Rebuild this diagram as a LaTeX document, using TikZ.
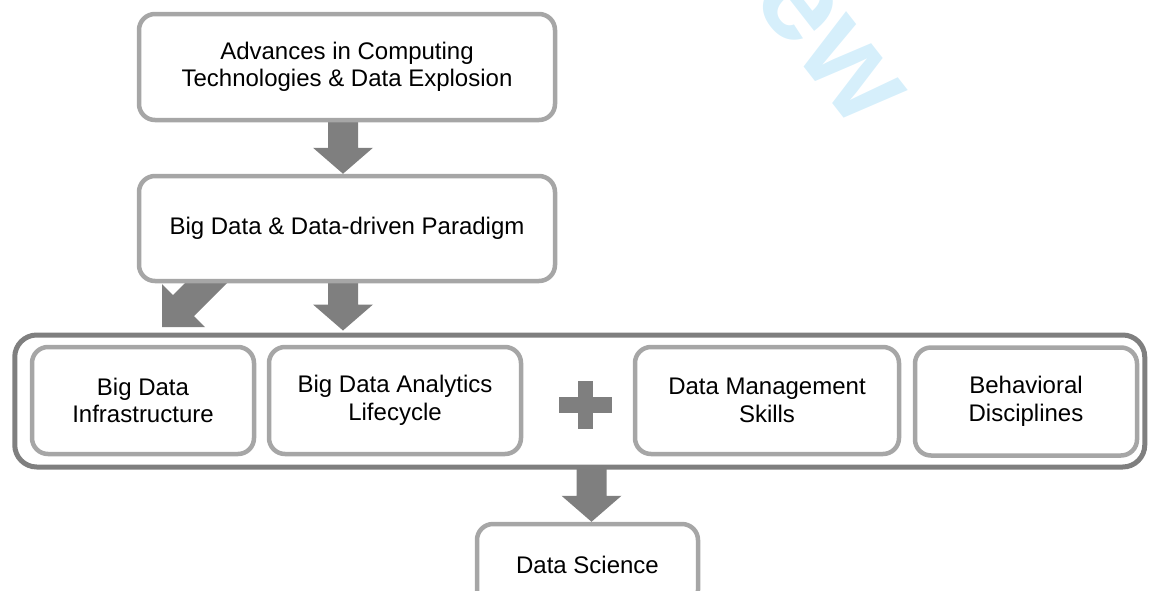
\documentclass[tikz,border=0pt]{standalone}
\usepackage{fontspec}
\setmainfont{Liberation Sans}
\usetikzlibrary{calc}
\pgfdeclarelayer{bg}
\pgfsetlayers{bg,main}
\definecolor{boxline}{HTML}{A6A6A6}
\definecolor{darkline}{HTML}{7F7F7F}
\definecolor{arrowc}{HTML}{7F7F7F}
\definecolor{wmark}{HTML}{D6EFFB}
\tikzset{
  box/.style={draw=boxline, line width=4.5pt, rounded corners=16pt, fill=white,
    inner sep=0pt, align=center, font=\fontsize{24}{27.5}\selectfont},
  frame/.style={draw=darkline, line width=5pt, rounded corners=22pt, inner sep=0pt},
  blockarrow/.style={fill=arrowc}
}
\newcommand{\vblockarrow}[2]{%
  \fill[blockarrow] ($(#1)+(-15,0)$) -- ($(#2)+(-15,-26)$) -- ($(#2)+(-30,-26)$) -- (#2)
    -- ($(#2)+(30,-26)$) -- ($(#2)+(15,-26)$) -- ($(#1)+(15,0)$) -- cycle;}
\begin{document}
\begin{tikzpicture}[x=1pt,y=-1pt]
\useasboundingbox (0,0) rectangle (1151,590);
\clip (0,0) rectangle (1151,590);
% watermark
\node[text=wmark, rotate=-52, inner sep=0pt, font=\bfseries\fontsize{128}{128}\selectfont] (wm) at (829,44) {ew};
% boxes
\node[box, minimum width=416pt, minimum height=106pt] (top) at (347,67)
  {Advances in Computing\\Technologies \& Data Explosion};
\node[box, minimum width=416pt, minimum height=105pt] (mid) at (347,228.5)
  {Big Data \& Data-driven Paradigm};
\node[frame, minimum width=1130pt, minimum height=132pt] (cont) at (579.75,401) {};
\node[box, minimum width=222pt, minimum height=107pt] (infra) at (143,400.5)
  {Big Data\\Infrastructure};
\node[box, minimum width=252pt, minimum height=107pt] (ana) at (395,400.5)
  {Big Data Analytics\\Lifecycle};
\node[box, minimum width=264pt, minimum height=107pt] (dms) at (767,400.5)
  {Data Management\\Skills};
\node[box, minimum width=222pt, minimum height=108pt] (beh) at (1026,401.5)
  {Behavioral\\Disciplines};
\node[box, minimum width=221pt, minimum height=82pt] (ds) at (587.5,565)
  {Data Science};
% plus sign
\coordinate (plus) at (585.5,405);
\fill[arrowc] ($(plus)+(-7.5,-24)$) rectangle ($(plus)+(7.5,24)$);
\fill[arrowc] ($(plus)+(-26.5,-8)$) rectangle ($(plus)+(26.5,8)$);
% arrows
\coordinate (a1s) at ($(top.south)+(-4,-3)$);
\coordinate (a1t) at (a1s |- mid.north);
\coordinate (a2s) at ($(mid.south)+(-4,-3)$);
\coordinate (a2t) at ($(a2s |- cont.north)+(0,-2)$);
\coordinate (a3s) at ($(ds.north |- cont.south)+(4,-3)$);
\coordinate (a3t) at ($(ds.north)+(4,0)$);
\coordinate (dtip) at (162,327);
\begin{pgfonlayer}{bg}
\vblockarrow{a1s}{a1t}
\vblockarrow{a2s}{a2t}
\vblockarrow{a3s}{a3t}
\fill[blockarrow] (dtip) -- ++(0,-43) -- ++(11,11) -- ++(40,-40) -- ++(21,21)
  -- ++(-40,40) -- ++(11,11) -- cycle;
\end{pgfonlayer}
\end{tikzpicture}
\end{document}
